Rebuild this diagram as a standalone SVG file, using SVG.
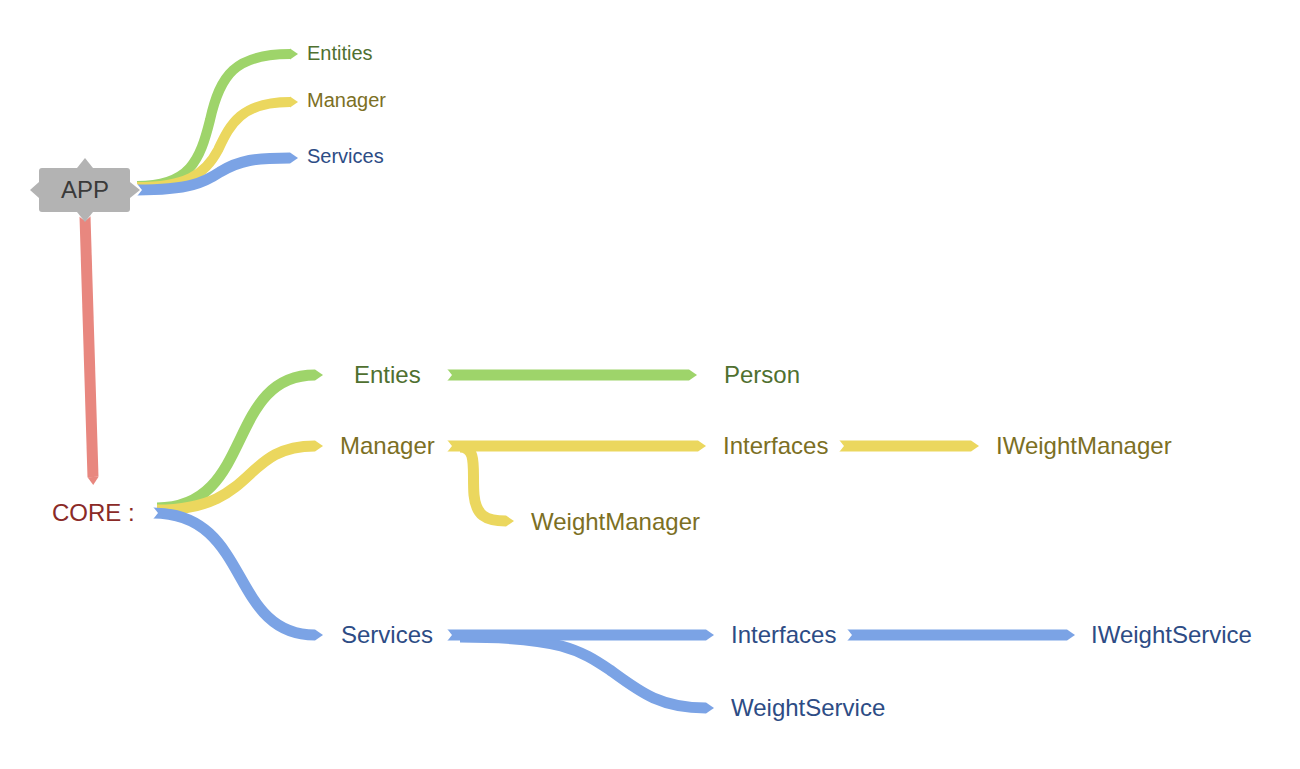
<svg xmlns="http://www.w3.org/2000/svg" width="1300" height="769" viewBox="0 0 1300 769">
<style>
.r{fill:none;stroke-linecap:butt;}
.g{stroke:#9ed46a;}
.y{stroke:#ebd75e;}
.b{stroke:#7ba3e5;}
.red{stroke:#e8877f;}
.t1{font-family:"Liberation Sans",Arial,sans-serif;font-size:20px;dominant-baseline:central;}
.t2{font-family:"Liberation Sans",Arial,sans-serif;font-size:24px;dominant-baseline:central;}
.cg{fill:#4f7030;}
.cy{fill:#7c6f24;}
.cb{fill:#2d4c85;}
</style>
<defs>
<marker id="hg" markerUnits="userSpaceOnUse" markerWidth="10" markerHeight="12" refX="0" refY="6" orient="auto" viewBox="0 0 10 12"><polygon points="0,0.5 8,6 0,11.5" fill="#9ed46a"/></marker>
<marker id="hy" markerUnits="userSpaceOnUse" markerWidth="10" markerHeight="12" refX="0" refY="6" orient="auto" viewBox="0 0 10 12"><polygon points="0,0.5 8,6 0,11.5" fill="#ebd75e"/></marker>
<marker id="hb" markerUnits="userSpaceOnUse" markerWidth="10" markerHeight="12" refX="0" refY="6" orient="auto" viewBox="0 0 10 12"><polygon points="0,0.5 8,6 0,11.5" fill="#7ba3e5"/></marker>
<marker id="hr" markerUnits="userSpaceOnUse" markerWidth="10" markerHeight="12" refX="0" refY="6" orient="auto" viewBox="0 0 10 12"><polygon points="0,0.5 8,6 0,11.5" fill="#e8877f"/></marker>
<marker id="n" markerUnits="userSpaceOnUse" markerWidth="8" markerHeight="14" refX="0.5" refY="7" orient="auto" viewBox="0 0 8 14"><polygon points="0,0 5.5,7 0,14" fill="#ffffff"/></marker>
</defs>
<g id="connectors">
<path class="r red" stroke-width="11" d="M85,216 L93,477" marker-start="url(#n)" marker-end="url(#hr)"/>
<path class="r g" stroke-width="10" d="M137,186 C190,186 200,160 210,120 C220,75 235,54 290,54" marker-end="url(#hg)"/>
<path class="r y" stroke-width="10" d="M137,187 C185,187 205,175 218,150 C230,125 240,102 290,102" marker-end="url(#hy)"/>
<path class="r b" stroke-width="11" d="M137,190 C190,190 205,182 220,172 C240,160 255,158 290,158" marker-start="url(#n)" marker-end="url(#hb)"/>
<path class="r g" stroke-width="11" d="M157,508 C255,508 225,375 315,375" marker-end="url(#hg)"/>
<path class="r y" stroke-width="11" d="M157,510 C258,510 240,446 315,446" marker-end="url(#hy)"/>
<path class="r b" stroke-width="11" d="M153,513 C252,513 228,635 315,635" marker-start="url(#n)" marker-end="url(#hb)"/>
<path class="r g" stroke-width="11" d="M447,375 L689,375" marker-start="url(#n)" marker-end="url(#hg)"/>
<path class="r y" stroke-width="11" d="M460,447 C478,447 472,470 474,495 C476,515 485,521 506,521" marker-end="url(#hy)"/>
<path class="r y" stroke-width="11" d="M447,446 L698,446" marker-start="url(#n)" marker-end="url(#hy)"/>
<path class="r y" stroke-width="11" d="M839,446 L971,446" marker-start="url(#n)" marker-end="url(#hy)"/>
<path class="r b" stroke-width="11" d="M460,637 C560,637 580,650 610,670 C640,692 660,708 706,708" marker-end="url(#hb)"/>
<path class="r b" stroke-width="11" d="M447,635 L706,635" marker-start="url(#n)" marker-end="url(#hb)"/>
<path class="r b" stroke-width="11" d="M847,635 L1067,635" marker-start="url(#n)" marker-end="url(#hb)"/>
</g>
<g id="app">
<rect x="39" y="168" width="91" height="44" rx="3" fill="#b3b3b3"/>
<polygon points="77,168 85,158 93,168" fill="#b3b3b3"/>
<polygon points="77,212 85,222 93,212" fill="#b3b3b3"/>
<polygon points="39,182 30,190 39,198" fill="#b3b3b3"/>
<polygon points="130,182 140,190 130,198" fill="#b3b3b3"/>
<text class="t2" x="85" y="189" text-anchor="middle" fill="#3a3a3a">APP</text>
</g>
<g id="app-entities"><text class="t1 cg" x="307" y="53">Entities</text></g>
<g id="app-manager"><text class="t1 cy" x="307" y="100">Manager</text></g>
<g id="app-services"><text class="t1 cb" x="307" y="156">Services</text></g>
<g id="core"><text class="t2" x="52" y="512" fill="#8a2a27">CORE :</text></g>
<g id="enties"><text class="t2 cg" x="354" y="374">Enties</text></g>
<g id="person"><text class="t2 cg" x="724" y="374">Person</text></g>
<g id="manager"><text class="t2 cy" x="340" y="445">Manager</text></g>
<g id="m-interfaces"><text class="t2 cy" x="723" y="445">Interfaces</text></g>
<g id="iweightmanager"><text class="t2 cy" x="996" y="445">IWeightManager</text></g>
<g id="weightmanager"><text class="t2 cy" x="531" y="521">WeightManager</text></g>
<g id="services"><text class="t2 cb" x="341" y="634">Services</text></g>
<g id="s-interfaces"><text class="t2 cb" x="731" y="634">Interfaces</text></g>
<g id="iweightservice"><text class="t2 cb" x="1091" y="634">IWeightService</text></g>
<g id="weightservice"><text class="t2 cb" x="731" y="707">WeightService</text></g>
</svg>
